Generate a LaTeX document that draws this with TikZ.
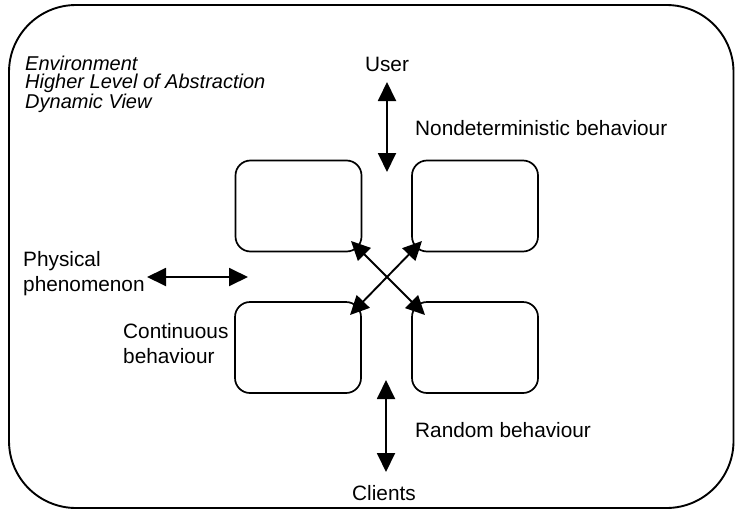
\documentclass[tikz,border=0pt]{standalone}
\usepackage{fontspec}
\setmainfont{Liberation Sans}
\usetikzlibrary{arrows.meta}
\begin{document}
\begin{tikzpicture}[x=1pt,y=-1pt,
  lbl/.style={inner sep=0pt, font=\fontsize{20.8}{18}\selectfont},
  mlbl/.style={inner sep=0pt, align=left, font=\fontsize{20.8}{25}\selectfont},
  ilbl/.style={inner sep=0pt, align=left, font=\fontsize{20}{18}\selectfont\itshape},
  boxnode/.style={draw, line width=1.7pt, rounded corners=15pt, minimum width=126pt, minimum height=91pt, inner sep=0pt},
  arr/.style={line width=1.9pt, {Triangle[length=19pt,width=18pt]}-{Triangle[length=19pt,width=18pt]}}]
\useasboundingbox (0,0) rectangle (735,511);
\draw[line width=1.9pt, rounded corners=67pt] (9,5) rectangle (733.5,508);
% boxes
\node[boxnode] (b1) at (298.5,206) {};
\node[boxnode] (b2) at (475,206) {};
\node[boxnode] (b3) at (298,347.5) {};
\node[boxnode] (b4) at (475,347.5) {};
% labels (base anchor = baseline of the last line)
\node[ilbl, anchor=base west] (env) at (25,108) {Environment\\Higher Level of Abstraction\\Dynamic View};
\node[lbl, anchor=base] (user) at (387,71) {User};
\node[lbl, anchor=base west] (nondet) at (415,135) {Nondeterministic behaviour};
\node[mlbl, anchor=base west] (phys) at (23,291) {Physical\\phenomenon};
\node[mlbl, anchor=base west] (cont) at (123,363) {Continuous\\behaviour};
\node[lbl, anchor=base west] (rand) at (415,437) {Random behaviour};
\node[lbl, anchor=base] (clients) at (384,500) {Clients};
% arrow ends
\coordinate (ut) at (387,82);
\coordinate (ub) at (387,172);
\coordinate (ct) at (386,380);
\coordinate (cb) at (386,472);
\coordinate (pl) at (147,277);
\coordinate (pr) at (248,277);
\coordinate (d1) at (351,241);
\coordinate (d4) at (425,315);
\coordinate (d2) at (422,241);
\coordinate (d3) at (350,315);
\draw[arr] (ut) -- (ub);
\draw[arr] (ct) -- (cb);
\draw[arr] (pl) -- (pr);
\draw[arr] (d1) -- (d4);
\draw[arr] (d2) -- (d3);
\end{tikzpicture}
\end{document}
